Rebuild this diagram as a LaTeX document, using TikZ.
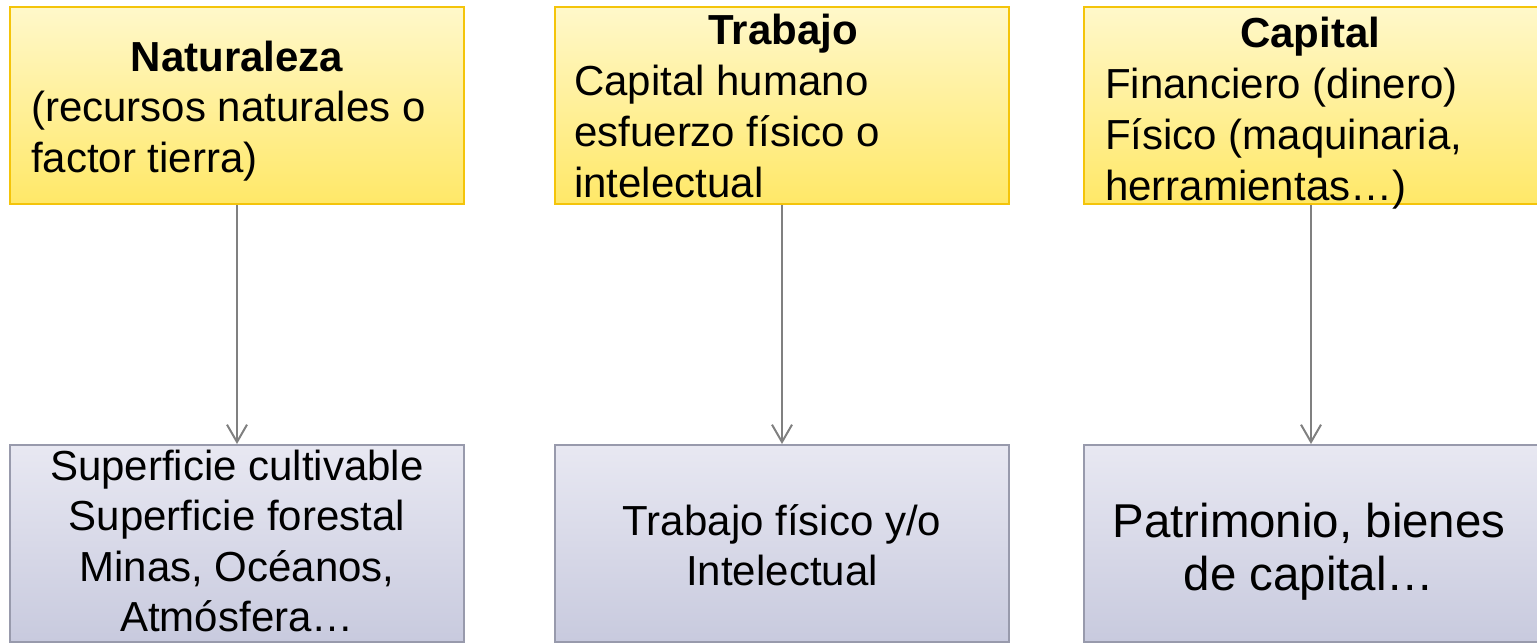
\documentclass[tikz,border=0pt]{standalone}
\usepackage{fontspec}
\setmainfont{Liberation Sans}
\usetikzlibrary{arrows.meta}
\definecolor{ytop}{RGB}{255,248,202}
\definecolor{ybot}{RGB}{255,232,104}
\definecolor{yedge}{RGB}{244,196,10}
\definecolor{gtop}{RGB}{232,232,242}
\definecolor{gbot}{RGB}{200,202,222}
\definecolor{gedge}{RGB}{152,154,172}
\definecolor{arr}{RGB}{128,128,128}
\tikzset{
  ybox/.style={rectangle, inner sep=0pt, minimum width=340.5pt, minimum height=147.75pt,
    top color=ytop, bottom color=ybot, draw=yedge, line width=1.5pt},
  gbox/.style={rectangle, inner sep=0pt, minimum width=340.5pt, minimum height=147.75pt,
    top color=gtop, bottom color=gbot, draw=gedge, line width=1.5pt},
  ttl/.style={inner sep=0pt, anchor=base, font=\fontsize{31.5}{37.8}\selectfont\bfseries},
  txl/.style={inner sep=0pt, anchor=base west, font=\fontsize{31.5}{37.8}\selectfont},
  txc/.style={inner sep=0pt, anchor=base, font=\fontsize{31.5}{37.8}\selectfont},
  txb/.style={inner sep=0pt, anchor=base, font=\fontsize{35.6}{42}\selectfont},
  conn/.style={draw=arr, line width=1.5pt, -{Straight Barb[length=13pt,width=15pt]}}
}
\begin{document}
\begin{tikzpicture}[x=0.75pt,y=-0.75pt]
\useasboundingbox (0,0) rectangle (1537,643);
\begin{scope}
\clip (0,0) rectangle (1537,643);
% top boxes
\node[ybox] (t1) at (237,105.5) {};
\node[ybox] (t2) at (782,105.5) {};
\node[ybox] (t3) at (1311,105.5) {};
% bottom boxes
\node[gbox] (b1) at (237,543.5) {};
\node[gbox] (b2) at (781.5,543.5) {};
\node[gbox] (b3) at (1311,543.5) {};
\end{scope}
% connectors
\draw[conn] (t1.south) -- (b1.north);
\draw[conn] (t2.south) -- (b2.north -| t2.south);
\draw[conn] (t3.south) -- (b3.north);
% texts top box 1
\node[ttl] (t1a) at (237,71) {Naturaleza};
\node[txl] (t1b) at (31,121) {(recursos naturales o};
\node[txl] (t1c) at (31,172) {factor tierra)};
% texts top box 2
\node[ttl] (t2a) at (783,44) {Trabajo};
\node[txl] (t2b) at (574,95) {Capital humano};
\node[txl] (t2c) at (574,146) {esfuerzo físico o};
\node[txl] (t2d) at (574,197) {intelectual};
% texts top box 3
\node[ttl] (t3a) at (1310,47) {Capital};
\node[txl] (t3b) at (1105,98) {Financiero (dinero)};
\node[txl] (t3c) at (1105,149) {Físico (maquinaria,};
\node[txl] (t3d) at (1105,200) {herramientas…)};
% bottom box 1
\node[txc] (b1a) at (237,480) {Superficie cultivable};
\node[txc] (b1b) at (237,530) {Superficie forestal};
\node[txc] (b1c) at (237,581) {Minas, Océanos,};
\node[txc] (b1d) at (237,631) {Atmósfera…};
% bottom box 2
\node[txc] (b2a) at (782,535) {Trabajo físico y/o};
\node[txc] (b2b) at (782,585) {Intelectual};
% bottom box 3
\node[txb] (b3a) at (1309,537) {Patrimonio, bienes};
\node[txb] (b3b) at (1309,590) {de capital…};
\end{tikzpicture}
\end{document}
